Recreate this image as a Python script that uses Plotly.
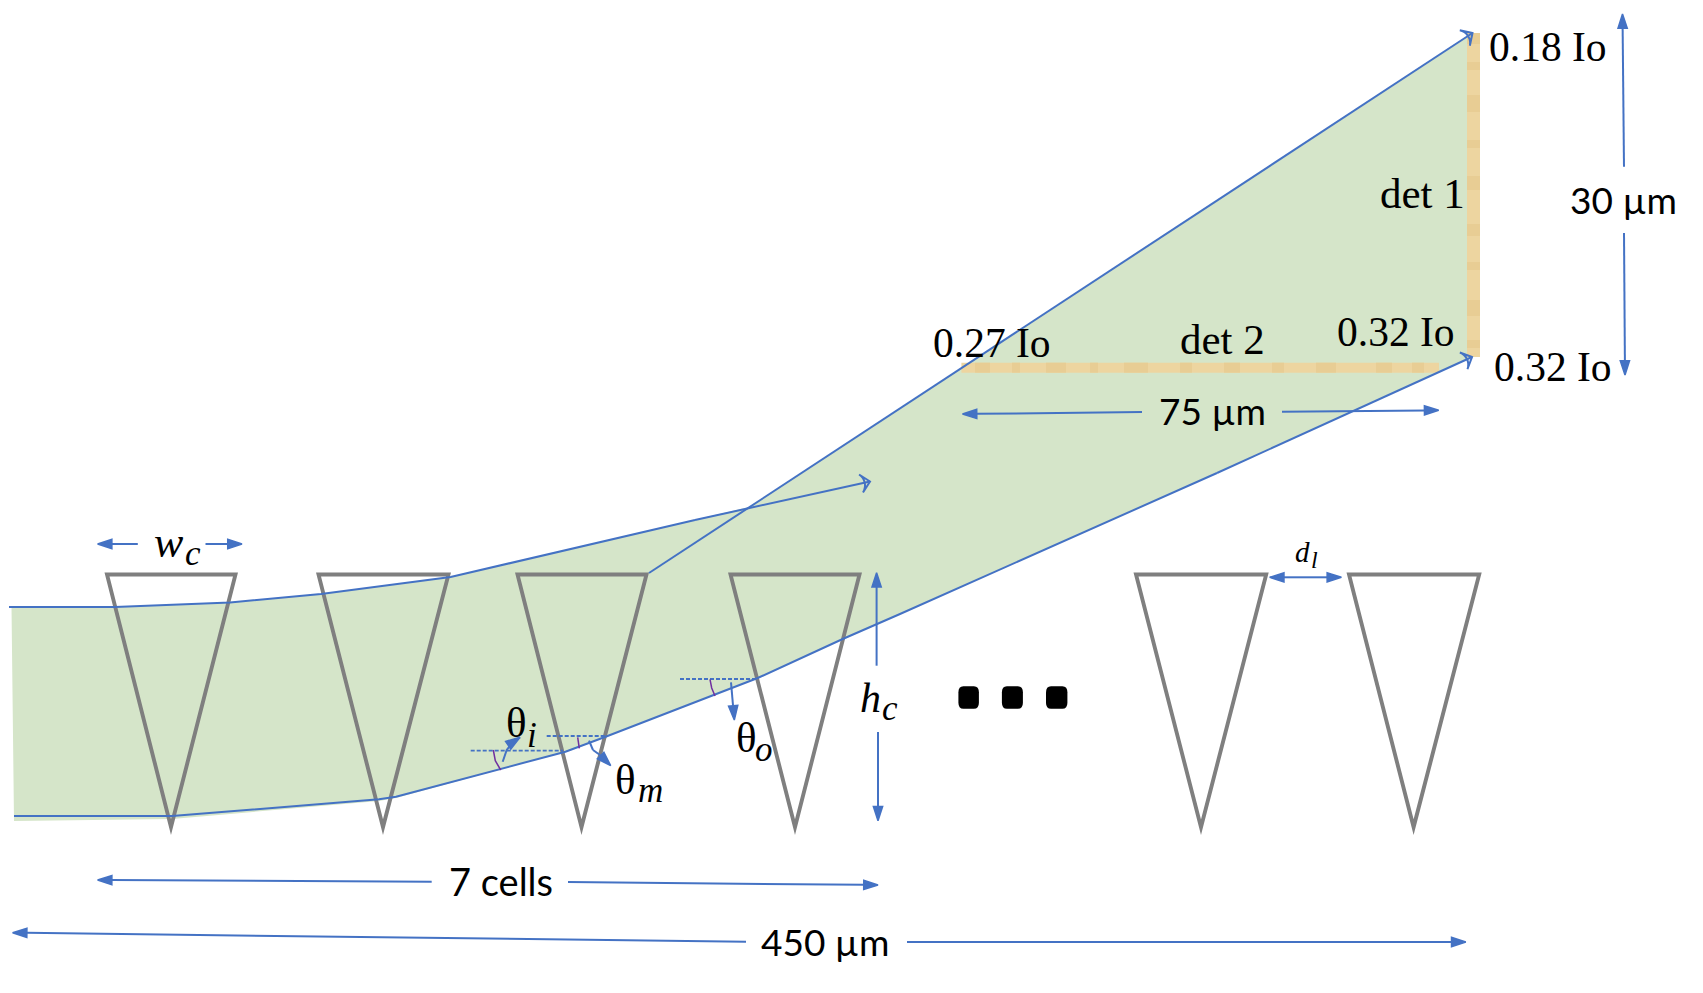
import plotly.graph_objects as go

WIDTH = 1703
HEIGHT = 993

BLUE = '#4472c4'
GREY = '#7f7f7f'
GREEN = '#d5e5c9'
TAN = '#edd5a0'
TAN_DARK = '#e8cd94'
PURPLE = '#7030a0'
SERIF = 'Liberation Serif'
SANS = 'Lato'

# cells
cell_left = [104.5, 316, 515, 728, 1133.5, 1346.5]
cell_right = [238, 451, 649, 862, 1268.7, 1481.7]
cell_apex = [171, 383, 581.5, 795, 1201, 1413.6]
cell_top = 572.5
cell_bottom = 835

# beam
beam_upper_x = [9, 115, 230, 321, 450.6, 695]
beam_upper_y = [607, 607, 602.5, 594, 577, 520]
beam_lower_x = [14, 172, 379, 396, 565.4, 605.6, 757.7, 842.7, 900, 1217]
beam_lower_y = [816, 816, 799.3, 796.7, 751.7, 736.7, 678, 639, 614, 473]
green_x = [11.5, 115, 230, 321, 450.6, 749, 1472.5, 1480, 1480, 1472, 1217, 900, 842.7, 757.7, 605.6, 565.4, 396, 379, 172, 14]
green_y = [607, 607, 602.5, 594, 577, 507, 33, 33, 357, 357, 473, 614, 639, 678, 736.7, 751.7, 798, 801, 819, 821]

# detectors
det1_x = [1467, 1480, 1480, 1467]
det1_y = [33, 33, 357, 357]
det2_x = [961.4, 1439, 1439, 961.4]
det2_y = [362.7, 362.7, 372.7, 372.7]
# darker mottled bands on the detectors
det1_bands = [[33, 44], [62, 70], [95, 112], [140, 148], [176, 190], [224, 236], [262, 270], [300, 316], [340, 348]]
det2_bands = [[975, 990], [1012, 1020], [1046, 1066], [1090, 1098], [1124, 1148], [1180, 1192], [1224, 1240], [1272, 1284], [1316, 1336], [1376, 1392], [1412, 1424]]

# dots
dot_left = [958.4, 1001.9, 1046]
dot_right = [978.9, 1022.9, 1067.4]
dot_top = 686.3
dot_bottom = 708.7

# angle construction
dash_x = [[470.7, 563], [546.7, 606], [680, 756.7]]
dash_y = [[750.7, 750.7], [736, 736], [679, 679]]
arc_x = [[493.3, 495.3, 500.7], [577.7, 578.7, 579.3], [710, 711.7, 715]]
arc_y = [[750, 760.7, 770], [737.3, 743, 748.3], [679.3, 688, 696]]

# arrows, tip is the last point
solid_arrows_x = [
    [137.8, 97.6], [205.5, 242], [1305, 1269.7], [1305, 1341.4], [876.6, 876.6], [878, 878],
    [431.7, 97.6], [568, 878], [746, 12.6], [907, 1465.8], [1142, 962.5], [1282, 1438.7],
    [1624, 1622.5], [1624, 1625],
    [502.7, 506.7, 513, 520], [589, 593, 600, 610.7], [731, 732.7, 734.3],
]
solid_arrows_y = [
    [544, 544], [544, 544], [577.3, 577.3], [577.3, 577.3], [665.7, 572.7], [732, 820.7],
    [881.7, 880], [882, 885], [941.7, 932.7], [942, 942], [412, 414], [411.7, 410.3],
    [166.7, 14], [233, 375],
    [761.7, 750, 742, 737.3], [740.7, 750, 755, 765.7], [682.3, 700, 720],
]
open_arrows_x = [[695, 870], [649, 1472.5], [1217, 1472]]
open_arrows_y = [[520, 481.5], [573, 33], [473, 357]]

# labels: text, x, y, size, family
labels = [
    ['0.18 Io', 1547.7, 46.7, 41.5, SERIF],
    ['0.32 Io', 1552.8, 367, 41.5, SERIF],
    ['0.32 Io', 1395.7, 332, 41.5, SERIF],
    ['0.27 Io', 992, 343, 41.5, SERIF],
    ['det 1', 1422, 193, 43, SERIF],
    ['det 2', 1222.6, 339, 43, SERIF],
    ['30 µm', 1623, 199.7, 37, SANS],
    ['75 µm', 1212, 410, 37, SANS],
    ['7 cells', 500.6, 881, 38, SANS],
    ['450 µm', 825, 941, 37, SANS],
    ['<i>w</i>', 169, 542, 44, SERIF],
    ['<i>c</i>', 193, 553, 35, SERIF],
    ['<i>h</i>', 870, 697.5, 42, SERIF],
    ['<i>c</i>', 890, 708.5, 35, SERIF],
    ['<i>d</i>', 1302, 552, 29, SERIF],
    ['<i>l</i>', 1314, 559.5, 24, SERIF],
    ['θ', 516, 722.7, 43, SERIF],
    ['<i>i</i>', 531.7, 735, 35, SERIF],
    ['θ', 625, 779.3, 43, SERIF],
    ['<i>m</i>', 650, 790, 35, SERIF],
    ['θ', 746.7, 737, 43, SERIF],
    ['<i>o</i>', 764, 749, 35, SERIF],
]

fig = go.Figure()


def line(x, y, color=BLUE, width=2, dash='solid'):
    fig.add_trace(go.Scatter(x=x, y=y, mode='lines', hoverinfo='skip',
                             line=dict(color=color, width=width, dash=dash)))


def area(x, y, color):
    fig.add_trace(go.Scatter(x=x, y=y, mode='lines', fill='toself', fillcolor=color,
                             hoverinfo='skip', line=dict(width=0)))


def arrow(x, y, symbol, size, edge):
    # only the last point carries a head
    sizes = [0] * (len(x) - 1) + [size]
    edges = [0] * (len(x) - 1) + [edge]
    fig.add_trace(go.Scatter(x=x, y=y, mode='lines+markers', hoverinfo='skip',
                             line=dict(color=BLUE, width=2),
                             marker=dict(symbol=symbol, size=sizes, angleref='previous', color=BLUE,
                                         opacity=1, line=dict(color=BLUE, width=edges))))


area(green_x, green_y, GREEN)
area(det1_x, det1_y, TAN)
area(det2_x, det2_y, TAN)
for a, b in det1_bands:
    area([det1_x[0], det1_x[1], det1_x[1], det1_x[0]], [a, a, b, b], TAN_DARK)
for a, b in det2_bands:
    area([a, b, b, a], [det2_y[0], det2_y[0], det2_y[2], det2_y[2]], TAN_DARK)

# each cell is one polygon with a slit, so the tip stays sharp like the original
for l, r, a in zip(cell_left, cell_right, cell_apex):
    left_slope = (a - l) / (cell_bottom - cell_top)
    right_slope = (r - a) / (cell_bottom - cell_top)
    wall = 4
    inner_top = cell_top + wall
    inner_bottom = cell_bottom - wall / left_slope
    il = l + wall + wall * left_slope
    ir = r - wall - wall * right_slope
    ia = il + (inner_bottom - inner_top) * left_slope
    area([l, r, a, l, il, ia, ir, il, l],
         [cell_top, cell_top, cell_bottom, cell_top, inner_top, inner_bottom, inner_top, inner_top, cell_top],
         GREY)

line(beam_upper_x, beam_upper_y)
line(beam_lower_x, beam_lower_y)

for x, y in zip(dash_x, dash_y):
    line(x, y, width=1.8, dash='4px,2px')
for x, y in zip(arc_x, arc_y):
    line(x, y, color=PURPLE, width=1.5)

for x, y in zip(solid_arrows_x, solid_arrows_y):
    arrow(x, y, 'arrow', 15, 1.5)
for x, y in zip(open_arrows_x, open_arrows_y):
    arrow(x, y, 'arrow-wide-open', 13, 2)

for text, x, y, size, family in labels:
    fig.add_annotation(x=x, y=y, xref='x', yref='y', text=text, showarrow=False,
                       font=dict(size=size, family=family, color='black'))

for l, r in zip(dot_left, dot_right):
    path = (f'M{l + 5},{dot_top} L{r - 5},{dot_top} Q{r},{dot_top} {r},{dot_top + 6} '
            f'L{r},{dot_bottom - 6} Q{r},{dot_bottom} {r - 5},{dot_bottom} '
            f'L{l + 5},{dot_bottom} Q{l},{dot_bottom} {l},{dot_bottom - 6} '
            f'L{l},{dot_top + 6} Q{l},{dot_top} {l + 5},{dot_top} Z')
    fig.add_shape(type='path', path=path, fillcolor='black', line_width=0)

fig.update_xaxes(range=[0, WIDTH], visible=False)
fig.update_yaxes(range=[HEIGHT, 0], visible=False)
fig.update_layout(width=WIDTH, height=HEIGHT, margin=dict(l=0, r=0, t=0, b=0),
                  plot_bgcolor='white', paper_bgcolor='white', showlegend=False)

fig.write_html('out.html', config=dict(displayModeBar=False),
               post_script="document.body.style.margin='0';document.body.style.overflow='hidden';")
